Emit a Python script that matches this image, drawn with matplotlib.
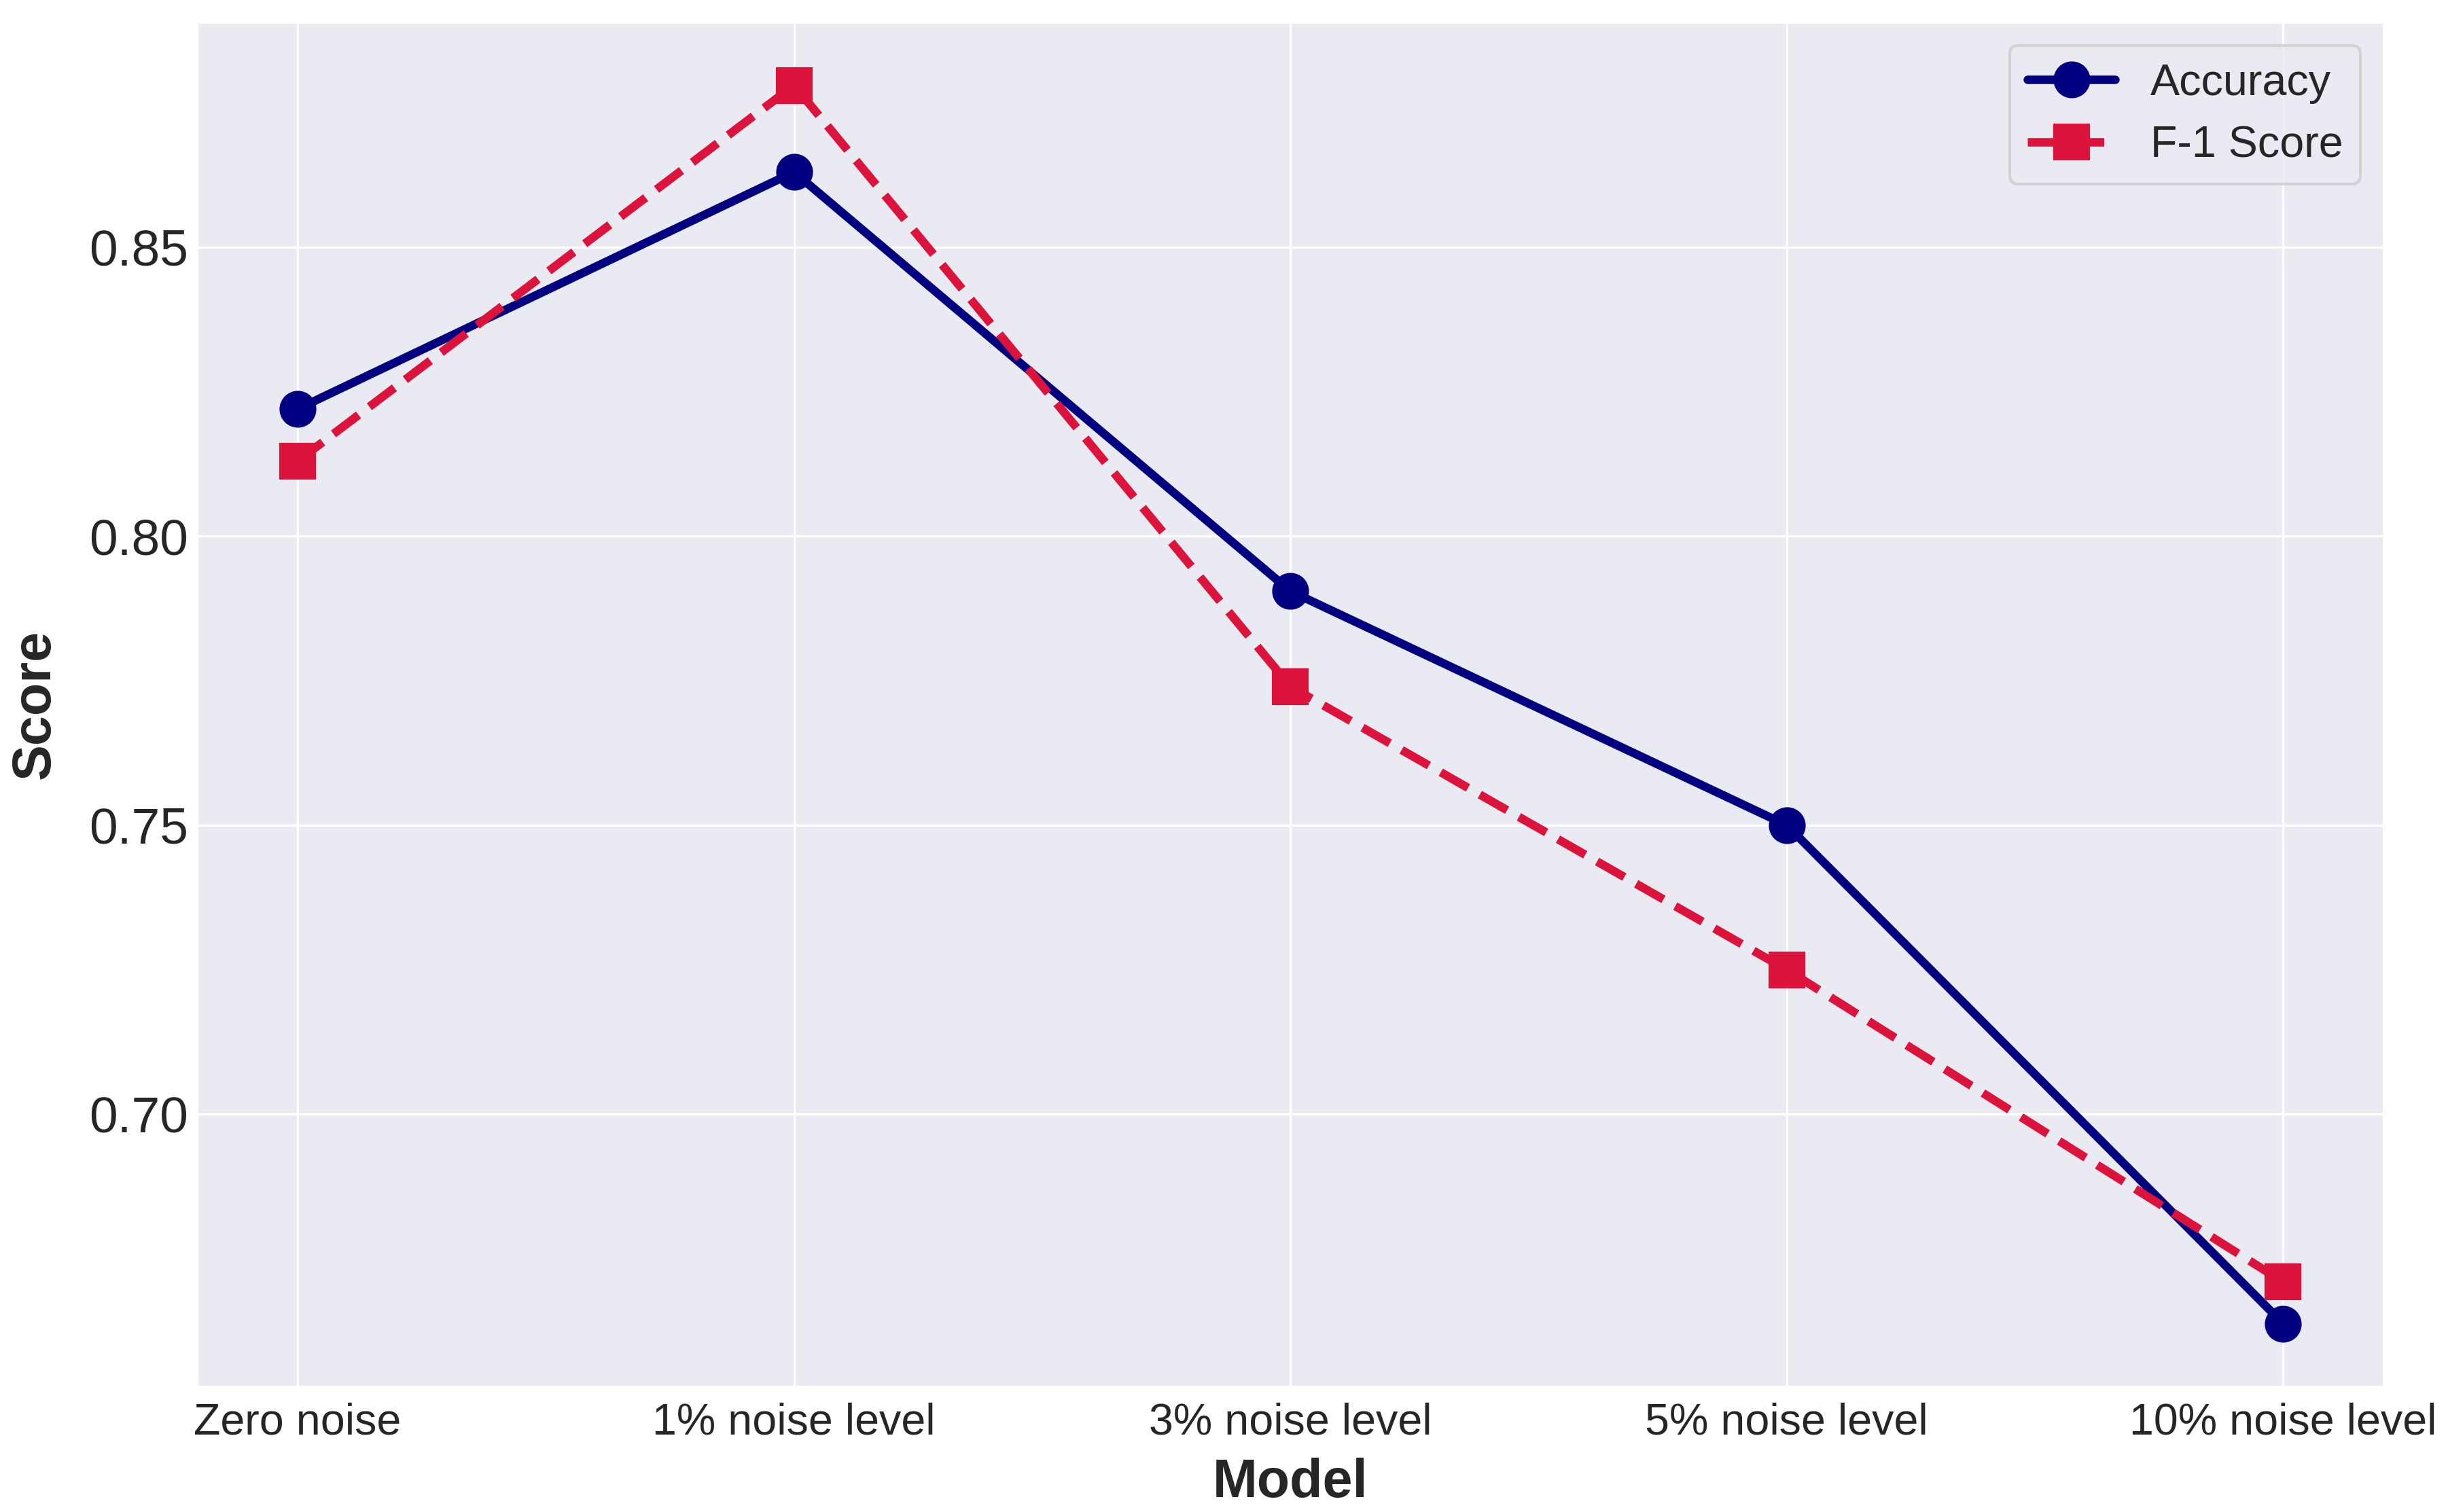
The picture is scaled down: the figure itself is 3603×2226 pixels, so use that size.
import matplotlib
matplotlib.use("Agg")
import matplotlib.pyplot as plt

models = ["Zero noise", "1% noise level", "3% noise level", "5% noise level", "10% noise level"]
accuracy = [0.822, 0.863, 0.7905, 0.750, 0.6638]
f1_score = [0.813, 0.878, 0.774, 0.725, 0.671]

plt.style.use("seaborn-v0_8-darkgrid")
plt.rcParams['font.family'] = ['Liberation Sans', 'DejaVu Sans']

fig = plt.figure(figsize=(12.013, 7.42), dpi=300)
ax = fig.add_axes([0.081, 0.0837, 0.892, 0.9008])

ax.plot(models, accuracy, marker='o', linestyle='-', color='navy', linewidth=3, markersize=12, label='Accuracy')
ax.plot(models, f1_score, marker='s', linestyle='--', color='crimson', linewidth=3, markersize=12, label='F-1 Score')

ax.set_xlabel('Model', fontsize=19, fontweight='bold', labelpad=5)
ax.set_ylabel('Score', fontsize=19, fontweight='bold', labelpad=10)
ax.tick_params(axis='x', labelsize=15.5, pad=6)
ax.tick_params(axis='y', labelsize=18)
ax.legend(fontsize=15.5, frameon=True, edgecolor='#cccccc', loc='upper right')

fig.savefig('out.png', dpi=300)
